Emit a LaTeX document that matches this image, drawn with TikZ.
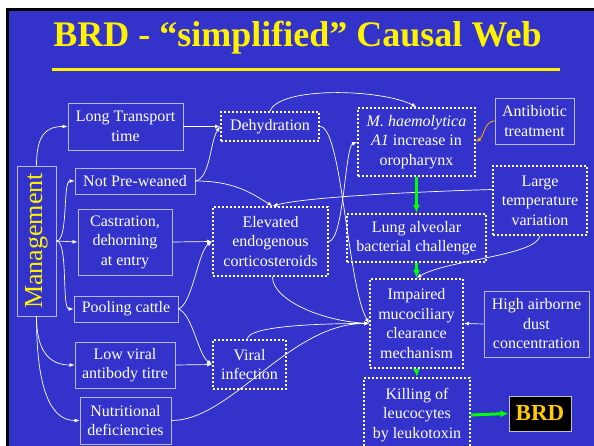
\documentclass[tikz,border=0pt]{standalone}
\usepackage{fontspec}
\usepackage{graphicx}
\setmainfont{Liberation Serif}
\usetikzlibrary{arrows.meta}
\definecolor{slideblue}{RGB}{51,51,204}
\definecolor{boxline}{RGB}{184,184,237}
\definecolor{brdgold}{RGB}{255,204,0}
\definecolor{antiorange}{RGB}{255,170,0}
\begin{document}
\begin{tikzpicture}[x=1pt,y=-1pt,>={Latex[length=5pt,width=4pt]},
	every node/.style={text=white,font=\fontsize{16}{19.5}\selectfont,align=center,inner sep=0pt},
	solidbox/.style={draw=boxline,line width=0.9pt},
	dotbox/.style={draw=white,line width=2pt,dash pattern=on 2pt off 2pt},
	link/.style={->,white,line width=0.7pt},
	greenarrow/.style={-{Latex[length=8pt,width=7pt]},green,line width=3pt}]
		\useasboundingbox (0,0) rectangle (594,446);
		\fill[white] (0,0) rectangle (594,446);
		\fill[black] (6,8) rectangle (594,446);
		\fill[slideblue] (9,11) rectangle (594,446);
		% title
		\node[text=yellow,font=\fontsize{36}{36}\selectfont\bfseries,anchor=base] (title) at (297.5,47) {BRD - “simplified” Causal Web};
		\draw[yellow,line width=3pt] (52,70) -- (560,70);
		% management factors
		\node[solidbox,text=yellow,font=\fontsize{26}{26}\selectfont,minimum width=39pt,minimum height=150pt] (mgmt) at (36.5,241) {\rotatebox{90}{Management}};
		\node[solidbox,minimum width=115pt,minimum height=47pt] (transport) at (125.5,126.5) {Long Transport\\time};
		\node[solidbox,minimum width=120pt,minimum height=26pt] (preweaned) at (135,181) {Not Pre-weaned};
		\node[solidbox,minimum width=94pt,minimum height=66pt] (castration) at (125,242) {Castration,\\dehorning\\at entry};
		\node[solidbox,minimum width=104pt,minimum height=26pt] (pooling) at (126,309) {Pooling cattle};
		\node[solidbox,minimum width=100pt,minimum height=46pt] (lowviral) at (125,365) {Low viral\\antibody titre};
		\node[solidbox,minimum width=91pt,minimum height=47pt] (nutrition) at (125.5,420.5) {Nutritional\\deficiencies};
		% intermediate causes
		\node[dotbox,minimum width=98pt,minimum height=29pt] (dehyd) at (270,126.5) {Dehydration};
		\node[dotbox,minimum width=115pt,minimum height=69pt] (elevated) at (270.5,241.5) {Elevated\\endogenous\\corticosteroids};
		\node[dotbox,minimum width=73pt,minimum height=49pt] (viral) at (249.5,364.5) {Viral\\infection};
		\node[dotbox,minimum width=117pt,minimum height=68pt] (mhaem) at (416.5,142) {\textit{M. haemolytica}\\\textit{A1} increase in\\oropharynx};
		\node[solidbox,minimum width=79pt,minimum height=46pt] (antibio) at (534.5,121) {Antibiotic\\treatment};
		\node[dotbox,minimum width=94pt,minimum height=69pt] (temp) at (540,200.5) {Large\\temperature\\variation};
		\node[dotbox,minimum width=139pt,minimum height=48pt] (lung) at (416.5,238) {Lung alveolar\\bacterial challenge};
		\node[dotbox,minimum width=93pt,minimum height=89pt] (impaired) at (416.5,323.5) {Impaired\\mucociliary\\clearance\\mechanism};
		\node[solidbox,minimum width=105pt,minimum height=66pt] (dust) at (536.5,324) {High airborne\\dust\\concentration};
		\node[dotbox,minimum width=106pt,minimum height=74pt] (killing) at (417,415) {Killing of\\leucocytes\\by leukotoxin};
		\node[draw=gray!50,line width=1pt,fill=black,text=brdgold,font=\fontsize{23}{23}\selectfont\bfseries,minimum width=62pt,minimum height=35pt] (brd) at (540,413.5) {BRD};
		% white links
		\draw[link] (mgmt.north) .. controls +(0,-30) and +(-22,0) .. (transport.west);
		\draw[link] (mgmt.east) .. controls +(12,0) and +(-12,0) .. (preweaned.west);
		\draw[link] (mgmt.east) -- (castration.west);
		\draw[link] (mgmt.east) .. controls +(12,0) and +(-12,0) .. (pooling.west);
		\draw[link] (mgmt.south) .. controls +(0,35) and +(-25,0) .. (lowviral.west);
		\draw[link] (mgmt.south) .. controls +(0,70) and +(-30,0) .. (nutrition.west);
		\draw[link] (transport.east) -- (dehyd.west);
		\draw[link] (preweaned.east) .. controls +(15,-3) and +(-10,15) .. (dehyd.west);
		\draw[link] (preweaned.east) .. controls +(40,0) and +(-20,-12) .. ([xshift=2pt]elevated.north);
		\draw[link] (castration.east) -- (elevated.west);
		\draw[link] (pooling.east) .. controls +(14,-5) and +(-14,10) .. (elevated.west);
		\draw[link] (pooling.east) .. controls +(14,5) and +(-14,-10) .. (viral.west);
		\draw[link] (lowviral.east) -- (viral.west);
		\draw[link] (nutrition.east) .. controls +(60,0) and +(-80,0) .. (impaired.west);
		\draw[link] ([xshift=-2pt]viral.north) .. controls +(0,-12) and +(-60,0) .. (impaired.west);
		\draw[link] ([xshift=2pt]elevated.south) .. controls +(0,22) and +(-50,-3) .. (impaired.west);
		\draw[link] (dehyd.east) .. controls +(22,0) and +(-22,-40) .. (impaired.west);
		\draw[link] (dehyd.north) .. controls +(10,-25) and +(-35,-18) .. (mhaem.north);
		\draw[link] (elevated.east) .. controls +(15,-3) and +(-12,5) .. (mhaem.west);
		\draw[link] ([yshift=11pt]temp.west) .. controls +(-100,3) and +(30,-8) .. ([xshift=2pt]elevated.north);
		\draw[link] (temp.south) .. controls +(-5,20) and +(30,-18) .. (impaired.north);
		\draw[link] (dust.west) -- (impaired.east);
		\draw[->,antiorange,line width=0.8pt] (antibio.west) .. controls +(-10,0) and +(8,-6) .. (mhaem.east);
		% main pathway
		\draw[greenarrow] (mhaem.south) -- (lung.north);
		\draw[greenarrow] (lung.south) -- (impaired.north);
		\draw[greenarrow] (impaired.south) -- (killing.north);
		\draw[greenarrow] (killing.east) -- (brd.west);
\end{tikzpicture}
\end{document}
